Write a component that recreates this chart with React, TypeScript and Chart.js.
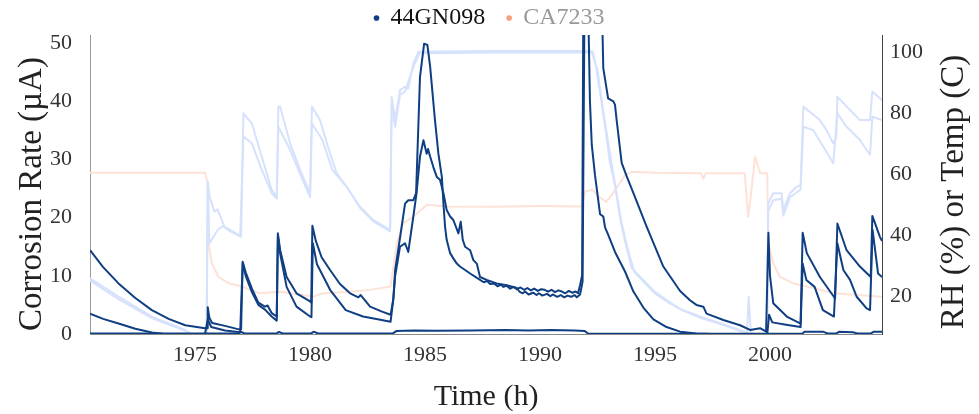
import React, { useEffect, useRef } from 'react';
import { Chart, registerables } from 'chart.js';

Chart.register(...registerables);

// ---------- labels ----------
const legendNames = ['44GN098', 'CA7233'];
const xTitle = 'Time (h)';
const leftTitle = 'Corrosion Rate (µA)';
const rightTitle = 'RH (%) or Temp (C)';
const xTicks = [1975, 1980, 1985, 1990, 1995, 2000];
const leftTicks = [0, 10, 20, 30, 40, 50];
const rightTicks = [20, 40, 60, 80, 100];

// ---------- corrosion series (left axis) ----------
const corrATime = [1970.43, 1971.0, 1971.67, 1972.4, 1973.12, 1973.85, 1974.57, 1975.43, 1975.52, 1975.55, 1975.62, 1975.74, 1976.3, 1976.9, 1977.0,
  1977.07, 1977.2, 1977.47, 1977.75, 1978.04, 1978.15, 1978.33, 1978.55, 1978.6, 1978.7, 1978.98, 1979.41, 1980.0, 1980.05,
  1980.1, 1980.25, 1980.5, 1980.87, 1981.3, 1981.74, 1982.1, 1982.2, 1982.61, 1983.1, 1983.5, 1983.62, 1983.7, 1983.91,
  1984.13, 1984.27, 1984.49, 1984.61, 1984.78, 1984.96, 1985.1, 1985.22, 1985.43, 1985.58, 1985.73, 1985.8, 1985.87, 1985.94,
  1986.09, 1986.23, 1986.38, 1986.52, 1986.96, 1987.39, 1987.55, 1987.7, 1987.83, 1988.0, 1988.15, 1988.3, 1988.4, 1988.55,
  1988.7, 1988.85, 1988.99, 1989.15, 1989.3, 1989.45, 1989.6, 1989.75, 1989.9, 1990.05, 1990.2, 1990.35, 1990.5, 1990.65,
  1990.8, 1990.95, 1991.1, 1991.25, 1991.4, 1991.55, 1991.65, 1991.74, 1991.83, 1991.88,
  1992.7, 1992.75, 1992.96, 1993.19, 1993.26, 1993.33, 1993.55, 1993.77, 1994.06, 1994.64, 1995.36, 1996.09, 1996.52,
  1996.8, 1997.1, 1997.24, 1997.97, 1998.7, 1999.13, 1999.57, 1999.83, 1999.93, 2000.0, 2000.14, 2000.73, 2001.33,
  2001.42, 2001.6, 2002.17, 2002.83, 2002.93, 2003.33, 2003.91, 2004.38, 2004.45, 2004.78, 2004.87];
const corrAValue = [14.4, 11.5, 8.7, 6.2, 4.1, 2.6, 1.5, 1.0, 1.0, 4.6, 2.8, 1.9, 1.4, 0.8, 0.8,
  12.4, 10.6, 7.8, 5.4, 4.7, 4.9, 3.6, 3.0, 17.3, 14.4, 9.8, 7.0, 5.6, 5.4,
  18.6, 16.0, 13.2, 11.0, 8.6, 7.0, 6.3, 6.7, 4.7, 3.9, 3.3, 6.0, 11.0, 16.5,
  22.4, 23.0, 23.0, 24.2, 44.2, 49.9, 49.7, 46.0, 36.8, 31.0, 27.0, 22.4, 18.4, 16.2,
  13.9, 13.0, 12.1, 11.6, 10.4, 9.3, 8.9, 9.1, 8.6, 8.7, 8.2, 8.5, 8.1, 8.3,
  7.8, 8.1, 7.7, 8.0, 7.6, 7.9, 7.5, 7.8, 7.4, 7.7, 7.6, 7.3, 7.6, 7.2,
  7.5, 7.3, 7.0, 7.4, 7.1, 7.3, 7.0, 8.4, 10.1, 55,
  55, 45.7, 40.5, 40.0, 39.4, 36.8, 29.4, 27.1, 24.2, 18.4, 11.6, 7.4, 5.8,
  5.0, 4.7, 3.5, 2.4, 1.5, 0.7, 1.0, 0.4, 17.4, 10.0, 5.3, 3.0, 1.8,
  17.4, 13.9, 9.8, 6.1, 19.0, 14.4, 11.6, 9.8, 20.3, 16.7, 16.0];

const corrBTime = [1970.43, 1971.0, 1971.67, 1972.4, 1973.12, 1973.6, 1975.43, 1975.55, 1975.7, 1976.3, 1976.96,
  1977.07, 1977.2, 1977.47, 1977.75, 1978.04, 1978.33, 1978.55, 1978.6, 1978.7, 1978.98, 1979.41, 1980.0, 1980.06,
  1980.12, 1980.3, 1980.87, 1981.55, 1982.3, 1983.0, 1983.5, 1983.62, 1983.7, 1983.91, 1984.13, 1984.27, 1984.49,
  1984.63, 1984.78, 1984.93, 1985.07, 1985.13, 1985.22, 1985.36, 1985.51, 1985.65, 1985.8, 1985.94, 1986.09, 1986.23,
  1986.45, 1986.55, 1986.64, 1986.74, 1986.96, 1987.1, 1987.25, 1987.39, 1987.68, 1988.11, 1988.55, 1988.99, 1989.1,
  1989.25, 1989.35, 1989.5, 1989.7, 1989.85, 1989.95, 1990.1, 1990.3, 1990.45, 1990.55, 1990.75, 1990.9, 1991.05,
  1991.2, 1991.35, 1991.5, 1991.6, 1991.74, 1991.85,
  1991.93, 1992.1, 1992.17, 1992.25, 1992.39, 1992.61, 1992.75, 1992.83, 1992.97, 1993.26, 1993.7, 1994.06, 1994.5,
  1994.93, 1995.5, 1996.09, 1996.8, 1997.5, 1999.88, 1999.96, 2000.1, 2000.7, 2001.33, 2001.42, 2001.58, 2001.94,
  2002.3, 2002.78, 2002.93, 2003.19, 2003.48, 2003.77, 2004.2, 2004.35, 2004.46, 2004.7, 2004.87];
const corrBValue = [3.5, 2.6, 1.8, 0.9, 0.25, 0.05, 0.0, 2.5, 1.2, 0.6, 0.3,
  12.2, 10.0, 7.2, 5.0, 4.2, 3.0, 2.3, 16.8, 13.8, 8.1, 4.7, 3.0, 2.9,
  15.6, 12.0, 7.6, 4.1, 3.0, 2.5, 2.1, 6.0, 10.0, 15.0, 15.6, 14.1, 20.2,
  24.2, 30.5, 33.3, 31.0, 31.8, 30.5, 28.7, 27.0, 26.5, 24.2, 21.3, 20.2, 19.6,
  17.3, 19.3, 16.2, 15.0, 14.4, 12.7, 12.1, 9.8, 9.3, 8.7, 8.4, 7.9, 7.3,
  7.0, 7.3, 6.8, 7.1, 6.7, 7.0, 6.6, 6.9, 6.5, 6.8, 6.4, 6.7, 6.3,
  6.6, 6.4, 6.7, 6.3, 6.8, 9.0,
  55, 55, 40.0, 32.5, 27.3, 20.6, 20.2, 18.3, 17.0, 14.1, 10.7, 7.3, 4.5,
  2.5, 1.2, 0.4, 0.1, 0.0, 0.0, 3.3, 2.0, 1.6, 1.2, 12.1, 9.3, 8.1,
  4.1, 3.0, 15.6, 11.0, 9.3, 6.4, 4.4, 4.1, 17.9, 10.4, 9.8];

const corrCTime = [1970.43, 1976.9, 1977.0, 1977.15, 1978.55, 1978.65, 1978.8, 1980.05, 1980.15, 1980.35, 1983.6, 1983.75,
  1984.5, 1985.5, 1987.0, 1988.5, 1989.5, 1990.5, 1991.5, 1991.95, 1992.1, 2001.4, 2001.5, 2002.3, 2002.5, 2002.9,
  2003.0, 2003.6, 2003.8, 2004.4, 2004.5, 2004.87];
const corrCValue = [0.1, 0.1, 0.35, 0.1, 0.1, 0.35, 0.1, 0.1, 0.4, 0.1, 0.1, 0.5,
  0.6, 0.55, 0.6, 0.7, 0.6, 0.7, 0.6, 0.5, 0.05, 0.05, 0.4, 0.4, 0.1, 0.1,
  0.4, 0.3, 0.1, 0.1, 0.4, 0.4];

// ---------- RH series (right axis) ----------
const rh1Time = [1970.43, 1971.67, 1973.12, 1974.57, 1975.0, 1975.5, 1975.55, 1975.63, 1975.84, 1975.98, 1976.27, 1976.9, 1977.0,
  1977.1, 1977.47, 1977.9, 1978.33, 1978.55, 1978.62, 1978.7, 1979.13, 1979.57, 1980.0, 1980.08, 1980.43, 1980.87, 1981.16,
  1981.59, 1982.17, 1982.75, 1983.48, 1983.55, 1983.7, 1983.91, 1984.13, 1984.27, 1984.49, 1984.71, 1988.0, 1992.2,
  1992.3, 1992.45, 1992.67, 1992.88, 1993.03, 1993.26, 1993.48, 1993.7, 1993.99, 1994.93, 1995.5, 1996.09, 1996.96,
  1997.83, 1998.7, 1999.0, 1999.07, 1999.17, 1999.6, 1999.88, 1999.92, 2000.14, 2000.5, 2000.58, 2000.87, 2001.16,
  2001.33, 2001.45, 2002.17, 2002.46, 2002.75, 2002.88, 2002.93, 2003.48, 2003.91, 2004.35, 2004.45, 2004.87];
const rh1Value = [26, 20, 13.5, 9.1, 7.0, 6.5, 57.6, 52.7, 47.8, 48.5, 42.9, 40.2, 39.6,
  79.9, 76.6, 65.7, 54.9, 52.7, 82.1, 82.1, 70.1, 61.4, 53.8, 82.1, 77.7, 66.8, 60.3,
  55.9, 49.4, 45.1, 41.8, 85.3, 77.7, 87.5, 88.6, 88.0, 96.2, 100, 100.3, 100.3,
  100, 94.6, 83.7, 72.8, 64.1, 56.5, 45.6, 38, 29.3, 22, 18.9, 16, 13.5,
  11.3, 9.1, 8.2, 20, 8.0, 7.5, 7.5, 50.5, 53.8, 53.8, 48.3, 53.8, 55.9,
  56.5, 82.1, 77.7, 74.4, 70.1, 72, 85.3, 81, 77.7, 77.7, 87, 84.2];

const rh2Time = [1970.43, 1971.67, 1973.12, 1974.57, 1975.0, 1975.5, 1975.55, 1975.62, 1975.98, 1976.2, 1976.5, 1976.96,
  1977.1, 1977.47, 1977.9, 1978.33, 1978.55, 1978.62, 1979.13, 1979.57, 1980.0, 1980.08, 1980.54, 1980.97, 1981.59,
  1982.17, 1982.75, 1983.48, 1983.55, 1983.7, 1983.91, 1984.13, 1984.49, 1984.75, 1988.0, 1992.25, 1992.5, 1992.72,
  1992.95, 1993.3, 1993.55, 1993.8, 1994.1, 1995.0, 1995.6, 1996.2, 1997.0, 1997.9, 1998.7, 1999.0, 1999.88,
  1999.92, 2000.14, 2000.5, 2000.58, 2000.87, 2001.33, 2001.45, 2001.88, 2002.32, 2002.75, 2002.93, 2003.33, 2003.91,
  2004.35, 2004.45, 2004.87];
const rh2Value = [25.3, 19.2, 13.0, 8.8, 7.0, 6.5, 57.6, 37.4, 41.8, 43, 41.5, 39.6,
  72.3, 70.1, 61.4, 53.8, 52, 75.5, 68, 60, 52.5, 76.6, 71.2, 61.4, 55.9,
  49, 44.6, 41.3, 83, 75.5, 86, 87, 95, 99.5, 99.8, 99.8, 94, 82,
  71, 55, 44, 36, 28, 21, 18, 15.5, 13, 11, 8.8, 8.0, 7.5,
  48, 51.5, 52, 46.5, 52.5, 55, 75.5, 74.4, 69, 63.6, 79.9, 75.5, 71.2,
  66.3, 78.8, 77.7];

// ---------- temperature series (right axis) ----------
const tempTime = [1970.43, 1975.43, 1975.55, 1975.58, 1975.73, 1976.01, 1976.45, 1977.03, 1977.8, 1978.7, 1980.15, 1980.5,
  1981.6, 1982.7, 1983.5, 1983.77, 1984.05, 1984.49, 1985.07, 1986.0, 1988.0, 1990.0, 1991.8, 1991.96, 1992.3, 1992.45,
  1992.88, 1993.1, 1993.7, 1993.99, 1995.0, 1997.0, 1997.1, 1997.2, 1998.9, 1999.05, 1999.15, 1999.35, 1999.57, 1999.88,
  1999.93, 2000.14, 2000.43, 2001.0, 2001.88, 2002.75, 2004.87];
const tempValue = [60.5, 60.5, 57, 37.4, 30.9, 26.5, 24.4, 23.3, 21.1, 21.6, 20, 21.0,
  21.5, 22.3, 23.3, 37.4, 44, 46.1, 50, 49.5, 49.4, 49.6, 49.5, 54.3, 55, 53.2,
  51, 53, 59.8, 60.8, 60.5, 60.3, 58.5, 60.3, 60.3, 46.1, 52, 65.7, 60.3, 60.3,
  37.4, 30.9, 26.5, 24.4, 22.8, 21.1, 20];

// ---------- styling ----------
const DARK = '#0f3f82';
const RH_COLOR = '#d6e2fc';
const TEMP_COLOR = '#fde2d8';
const LEGEND_ORANGE = '#f4a27e';
const SERIF = '"Liberation Serif", "Times New Roman", serif';

const toPoints = (xs: number[], ys: number[]) => xs.map((x, i) => ({ x, y: ys[i] }));

const fixTicks = (values: number[]) => (scale: any) => {
  scale.ticks = values.map((v) => ({ value: v }));
};

export default function App() {
  const canvasRef = useRef<HTMLCanvasElement | null>(null);

  useEffect(() => {
    if (!canvasRef.current) return;

    const sideTitlesPlugin = {
      id: 'sideTitles',
      afterDraw(chart: any) {
        const { ctx } = chart;
        const drawRotated = (text: string, x: number, y: number) => {
          ctx.save();
          ctx.font = `33px ${SERIF}`;
          ctx.fillStyle = '#222';
          ctx.textAlign = 'center';
          ctx.textBaseline = 'middle';
          ctx.translate(x, y);
          ctx.rotate(-Math.PI / 2);
          ctx.fillText(text, 0, 0);
          ctx.restore();
        };
        drawRotated(leftTitle, 32, 194);
        drawRotated(rightTitle, chart.width - 25, 192);
      },
    };

    const chart = new Chart(canvasRef.current, {
      type: 'line',
      data: {
        datasets: [
          { label: 'corrA', data: toPoints(corrATime, corrAValue), borderColor: DARK, yAxisID: 'y' },
          { label: 'corrB', data: toPoints(corrBTime, corrBValue), borderColor: DARK, yAxisID: 'y' },
          { label: 'corrC', data: toPoints(corrCTime, corrCValue), borderColor: DARK, yAxisID: 'y' },
          { label: 'rh1', data: toPoints(rh1Time, rh1Value), borderColor: RH_COLOR, yAxisID: 'y1' },
          { label: 'rh2', data: toPoints(rh2Time, rh2Value), borderColor: RH_COLOR, yAxisID: 'y1' },
          { label: 'temp', data: toPoints(tempTime, tempValue), borderColor: TEMP_COLOR, yAxisID: 'y1' },
        ],
      },
      options: {
        animation: false,
        responsive: false,
        layout: { padding: { top: -16, left: 0, right: 0, bottom: 0 } },
        elements: {
          point: { radius: 0 },
          line: { borderWidth: 2, tension: 0, borderJoinStyle: 'round' },
        },
        plugins: {
          tooltip: { enabled: false },
          legend: {
            display: true,
            position: 'top',
            maxHeight: 51,
            labels: {
              usePointStyle: true,
              boxWidth: 4,
              boxHeight: 4,
              padding: 22,
              font: { family: SERIF, size: 24 },
              generateLabels: () => [
                { text: legendNames[0], fillStyle: DARK, strokeStyle: DARK, lineWidth: 0, pointStyle: 'circle', fontColor: '#111', hidden: false, datasetIndex: 0 },
                { text: legendNames[1], fillStyle: LEGEND_ORANGE, strokeStyle: LEGEND_ORANGE, lineWidth: 0, pointStyle: 'circle', fontColor: '#999', hidden: false, datasetIndex: 5 },
              ] as any,
            },
          },
        },
        scales: {
          x: {
            type: 'linear',
            min: 1970.43,
            max: 2004.87,
            afterBuildTicks: fixTicks(xTicks),
            afterFit: (s: any) => { s.height = 80; },
            grid: { display: false, drawTicks: false },
            border: { display: true, color: '#888', width: 1 },
            ticks: { font: { family: SERIF, size: 22 }, color: '#333', padding: 8, maxRotation: 0, callback: (v: any) => String(v) },
            title: { display: true, text: xTitle, font: { family: SERIF, size: 30, lineHeight: 1 }, color: '#222', padding: { top: 0, bottom: 2 } },
          },
          y: {
            type: 'linear',
            position: 'left',
            min: 0,
            max: 51.4,
            afterBuildTicks: fixTicks(leftTicks),
            afterFit: (s: any) => { s.width = 90; },
            grid: { display: false, drawTicks: false },
            border: { display: true, color: '#999', width: 1 },
            ticks: { font: { family: SERIF, size: 22 }, color: '#333', padding: 18, callback: (v: any) => String(v) },
            title: { display: false },
          },
          y1: {
            type: 'linear',
            position: 'right',
            min: 7.8,
            max: 105.5,
            afterBuildTicks: fixTicks(rightTicks),
            afterFit: (s: any) => { s.width = 97; },
            grid: { display: false, drawTicks: false },
            border: { display: true, color: '#444', width: 1 },
            ticks: { font: { family: SERIF, size: 22 }, color: '#333', padding: 8, callback: (v: any) => String(v) },
            title: { display: false },
          },
        },
      },
      plugins: [sideTitlesPlugin],
    } as any);

    return () => chart.destroy();
  }, []);

  return (
    <div style={{ position: 'fixed', left: 0, top: 0, width: 979, height: 414, background: '#fff' }}>
      <canvas ref={canvasRef} width={979} height={414} style={{ display: 'block', width: 979, height: 414 }} />
    </div>
  );
}
